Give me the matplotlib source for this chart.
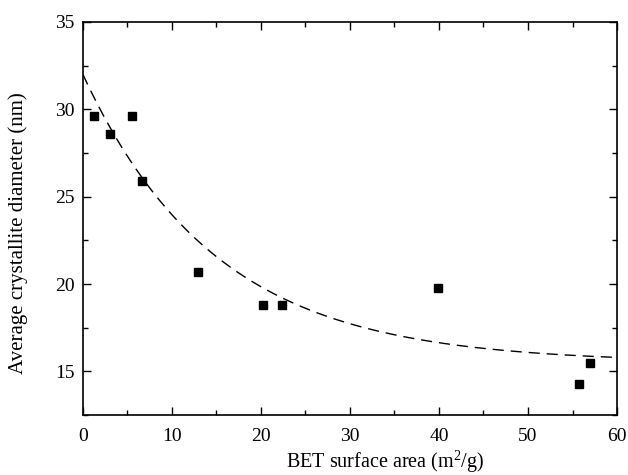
import numpy as np
import matplotlib
matplotlib.use("Agg")
import matplotlib.pyplot as plt
from matplotlib.ticker import MultipleLocator

plt.rcParams['font.family'] = ['Liberation Serif', 'DejaVu Serif']
plt.rcParams['mathtext.fontset'] = 'custom'
plt.rcParams['mathtext.rm'] = 'Liberation Serif'
plt.rcParams['mathtext.default'] = 'regular'

# Data
bet_area = [1.3, 3.1, 5.5, 6.6, 12.9, 20.2, 22.4, 39.9, 55.7, 57.0]
diameter = [29.6, 28.6, 29.6, 25.9, 20.7, 18.8, 18.8, 19.8, 14.3, 15.5]

# Exponential decay fit parameters: y = y0 + A*exp(-x/t)
fit_y0 = 15.5
fit_A = 16.5
fit_t = 15.0

fig = plt.figure(figsize=(6.28, 4.75), dpi=100)
ax = fig.add_axes([0.132, 0.126, 0.8505, 0.8277])

xf = np.linspace(0, 60, 300)
ax.plot(xf, fit_y0 + fit_A * np.exp(-xf / fit_t), color='black', lw=1.0,
        linestyle=(0, (8, 5)))
ax.plot(bet_area, diameter, linestyle='none', marker='s', ms=6.3,
        color='black')

ax.set_xlim(0, 60)
ax.set_ylim(12.5, 35)
ax.xaxis.set_major_locator(MultipleLocator(10))
ax.xaxis.set_minor_locator(MultipleLocator(5))
ax.yaxis.set_major_locator(MultipleLocator(5))
ax.yaxis.set_minor_locator(MultipleLocator(2.5))
ax.tick_params(which='both', direction='in', top=True, right=True,
               labeltop=False, labelright=False, width=1.0, labelsize=14)
ax.tick_params(which='major', length=6)
ax.tick_params(axis='x', which='major', pad=9)
ax.tick_params(axis='y', which='major', pad=6)
ax.tick_params(which='minor', length=3.5)
for s in ax.spines.values():
    s.set_linewidth(1.2)

ax.set_xlabel(r'BET surface area (m$^{2}$/g)', fontsize=14.5)
ax.set_ylabel('Average crystallite diameter (nm)', fontsize=15)
ax.xaxis.set_label_coords(0.566, -0.085)
ax.yaxis.set_label_coords(-0.103, 0.463)

fig.savefig('out.png', dpi=100)
